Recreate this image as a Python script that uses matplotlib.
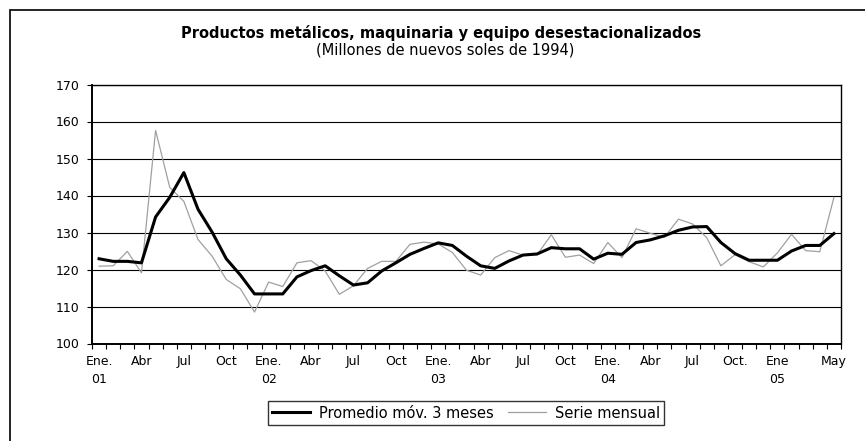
import numpy as np
import matplotlib
matplotlib.use("Agg")
import matplotlib.pyplot as plt
from matplotlib.patches import Rectangle

plt.rcParams['font.family'] = ['DejaVu Sans']

# Datos (ene-2001 a may-2005)
meses = [f"{a}-{m:02d}" for a in range(2001, 2006) for m in range(1, 13)][:53]

serie_mensual = [120.9, 121.0, 124.9, 119.1, 157.6, 142.2, 138.4, 128.1, 123.6, 117.3, 114.8, 108.5,
                 116.6, 115.4, 121.8, 122.4, 119.6, 113.3, 115.6, 120.3, 122.2, 122.2, 126.8, 127.4,
                 126.9, 124.6, 119.8, 118.5, 123.2, 125.1, 123.9, 124.0, 129.4, 123.3, 123.9, 121.6,
                 127.3, 123.2, 131.0, 129.8, 128.7, 133.6, 132.3, 128.6, 121.0, 124.0, 122.1, 120.7,
                 124.5, 129.5, 125.1, 124.8, 139.5]

promedio_3m = [122.9, 122.2, 122.2, 121.8, 134.2, 139.5, 146.2, 136.3, 130.1, 122.9, 118.5, 113.4,
               113.4, 113.4, 118.0, 119.7, 121.0, 118.3, 115.8, 116.4, 119.6, 121.8, 124.1, 125.7,
               127.2, 126.5, 123.6, 121.0, 120.3, 122.3, 123.9, 124.2, 125.9, 125.6, 125.6, 122.8,
               124.4, 124.1, 127.3, 128.0, 129.1, 130.6, 131.5, 131.6, 127.3, 124.3, 122.5, 122.5,
               122.5, 125.0, 126.5, 126.5, 129.7]

etiquetas_x = {
    "2001-01": "Ene.\n01", "2001-04": "Abr", "2001-07": "Jul", "2001-10": "Oct",
    "2002-01": "Ene.\n02", "2002-04": "Abr", "2002-07": "Jul", "2002-10": "Oct",
    "2003-01": "Ene.\n03", "2003-04": "Abr", "2003-07": "Jul", "2003-10": "Oct",
    "2004-01": "Ene.\n04", "2004-04": "Abr", "2004-07": "Jul", "2004-10": "Oct.",
    "2005-01": "Ene\n05", "2005-05": "May",
}

fig = plt.figure(figsize=(8.65, 4.41), dpi=100)

# marco exterior del gráfico
fig.patches.append(Rectangle((10 / 865, -0.1), 1.2, 1 - 10 / 441 + 0.1, transform=fig.transFigure,
                             fill=False, edgecolor='black', linewidth=1.2))

ax = fig.add_axes([92 / 865, 1 - 343.5 / 441, 749 / 865, 259 / 441])

x = np.arange(len(meses))
ax.plot(x, promedio_3m, color='black', linewidth=2.2, label='Promedio móv. 3 meses', zorder=3)
ax.plot(x, serie_mensual, color='#a0a0a0', linewidth=0.9, label='Serie mensual', zorder=2)

ax.set_xlim(-0.5, len(meses) - 0.5)
ax.set_ylim(100, 170)
ax.set_yticks(np.arange(100, 171, 10))
ax.grid(axis='y', color='black', linewidth=0.8)
ax.set_axisbelow(True)

pos = [meses.index(k) for k in etiquetas_x]
ax.set_xticks(pos)
ax.set_xticklabels(list(etiquetas_x.values()), fontsize=9, linespacing=1.55)
ax.set_xticks(np.arange(-0.5, len(meses)), minor=True)
ax.tick_params(axis='x', which='major', length=0, pad=8)
ax.tick_params(axis='x', which='minor', length=3.5, width=0.8, direction='out')
ax.tick_params(axis='y', length=3.5, width=0.8, pad=5.5, labelsize=9)

for s in ax.spines.values():
    s.set_color('black')
    s.set_linewidth(1.0)
ax.spines['left'].set_linewidth(1.4)
ax.spines['bottom'].set_linewidth(1.4)

fig.text(441 / 865, 1 - 33 / 441, "Productos metálicos, maquinaria y equipo desestacionalizados",
         ha='center', va='center', fontsize=10.5, fontweight='bold')
fig.text(445 / 865, 1 - 50 / 441, "(Millones de nuevos soles de 1994)",
         ha='center', va='center', fontsize=10.5)

leg = ax.legend(loc='center', bbox_to_anchor=(466 / 865, 1 - 413 / 441), bbox_transform=fig.transFigure,
                ncol=2, frameon=True, fancybox=False, fontsize=10.5, handlelength=2.6,
                columnspacing=1.0, borderpad=0.3, borderaxespad=0, handletextpad=0.6)
leg.get_frame().set_edgecolor('black')
leg.get_frame().set_linewidth(1.0)

fig.savefig("out.png", dpi=100)
